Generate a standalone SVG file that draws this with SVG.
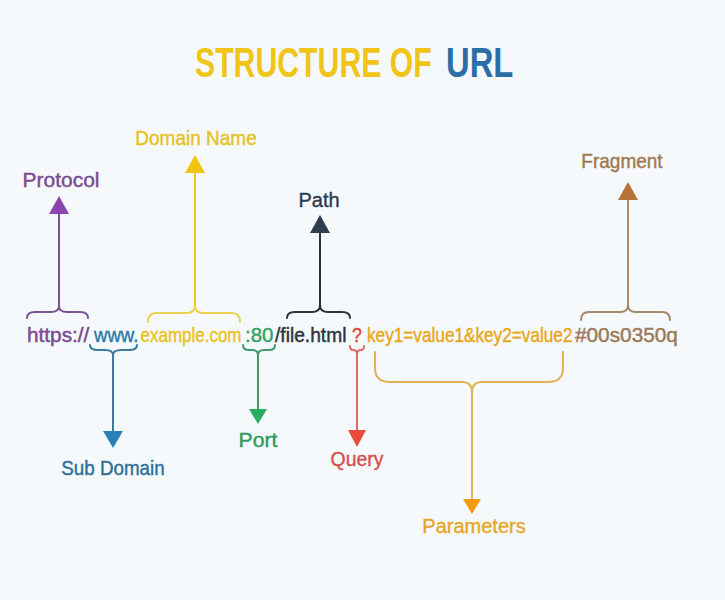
<svg xmlns="http://www.w3.org/2000/svg" width="725" height="600" viewBox="0 0 725 600">
<style>
  text { font-family: "Liberation Sans", Arial, sans-serif; }
  .title { font-size: 42px; font-weight: 700; }
  .url { font-size: 20px; fill: currentColor; stroke: currentColor; stroke-width: 0.45; }
  .lbl { font-size: 20px; text-anchor: middle; fill: currentColor; stroke: currentColor; stroke-width: 0.4; }
  .brace, .conn { fill: none; stroke-width: 2; stroke-linecap: round; stroke-linejoin: round; }
</style>
<defs>
  <marker id="mPurple" markerUnits="userSpaceOnUse" markerWidth="20" markerHeight="22" viewBox="0 -11 20 22" refX="0" refY="0" orient="auto"><path d="M0,-10 L18,0 L0,10 Z" fill="#8e44ad"/></marker>
  <marker id="mYellow" markerUnits="userSpaceOnUse" markerWidth="20" markerHeight="22" viewBox="0 -11 20 22" refX="0" refY="0" orient="auto"><path d="M0,-10 L18,0 L0,10 Z" fill="#f1c40f"/></marker>
  <marker id="mDark" markerUnits="userSpaceOnUse" markerWidth="20" markerHeight="22" viewBox="0 -11 20 22" refX="0" refY="0" orient="auto"><path d="M0,-10 L18,0 L0,10 Z" fill="#2c3e50"/></marker>
  <marker id="mBrown" markerUnits="userSpaceOnUse" markerWidth="20" markerHeight="22" viewBox="0 -11 20 22" refX="0" refY="0" orient="auto"><path d="M0,-10 L18,0 L0,10 Z" fill="#b8733a"/></marker>
  <marker id="mBlue" markerUnits="userSpaceOnUse" markerWidth="20" markerHeight="22" viewBox="0 -11 20 22" refX="0" refY="0" orient="auto"><path d="M0,-10 L17,0 L0,10 Z" fill="#2980b9"/></marker>
  <marker id="mGreen" markerUnits="userSpaceOnUse" markerWidth="20" markerHeight="22" viewBox="0 -11 20 22" refX="0" refY="0" orient="auto"><path d="M0,-9 L15,0 L0,9 Z" fill="#27ae60"/></marker>
  <marker id="mRed" markerUnits="userSpaceOnUse" markerWidth="20" markerHeight="22" viewBox="0 -11 20 22" refX="0" refY="0" orient="auto"><path d="M0,-9 L17,0 L0,9 Z" fill="#e74c3c"/></marker>
  <marker id="mOrange" markerUnits="userSpaceOnUse" markerWidth="20" markerHeight="22" viewBox="0 -11 20 22" refX="0" refY="0" orient="auto"><path d="M0,-9 L15,0 L0,9 Z" fill="#f39c12"/></marker>
</defs>
<rect width="725" height="600" fill="#f5f9fc"/>

<g id="title">
  <text class="title" transform="translate(195 77) scale(0.72 1)" fill="#f0c419">STRUCTURE OF</text>
  <text class="title" transform="translate(446 77) scale(0.78 1)" fill="#2b6ea6">URL</text>
</g>

<g id="url">
  <text class="url" transform="translate(27 342) scale(1.04 1)" color="#7b4a91">https://</text>
  <text class="url" transform="translate(94 342) scale(0.93 1)" color="#2e7aa6">www.</text>
  <text class="url" transform="translate(140.5 342) scale(0.85 1)" color="#e9c31c">example.com</text>
  <text class="url" transform="translate(245 342) scale(1.02 1)" color="#2fa36a">:80</text>
  <text class="url" transform="translate(275 342) scale(0.96 1)" color="#2c3440">/file.html</text>
  <text class="url" transform="translate(352 342) scale(0.88 1)" color="#e0473a">?</text>
  <text class="url" transform="translate(367 342) scale(0.86 1)" color="#e8a820">key1=value1&amp;key2=value2</text>
  <text class="url" transform="translate(575 342) scale(1.04 1)" color="#9c7a58">#00s0350q</text>
</g>

<g id="protocol">
  <text class="lbl" transform="translate(61 187) scale(1.05 1)" color="#7b4a91">Protocol</text>
</g>
<g id="domain-name">
  <text class="lbl" transform="translate(196 145) scale(0.95 1)" color="#e6c21e">Domain Name</text>
</g>
<g id="path">
  <text class="lbl" transform="translate(319 207)" color="#2c3e50">Path</text>
</g>
<g id="fragment">
  <text class="lbl" transform="translate(622 168) scale(0.95 1)" color="#a07850">Fragment</text>
</g>
<g id="sub-domain">
  <text class="lbl" transform="translate(113 475) scale(0.94 1)" color="#2f6f9a">Sub Domain</text>
</g>
<g id="port">
  <text class="lbl" transform="translate(258 447) scale(1.06 1)" color="#2f9a5e">Port</text>
</g>
<g id="query">
  <text class="lbl" transform="translate(357 466) scale(0.97 1)" color="#d65050">Query</text>
</g>
<g id="parameters">
  <text class="lbl" transform="translate(474 533)" color="#e5a82a">Parameters</text>
</g>

<g id="connectors">
  <path class="brace" stroke="#7d5292" d="M27 318 Q27 312 35 312 L51 312 Q59 312 59 306 Q59 312 67 312 L80 312 Q88 312 88 318"/>
  <path class="conn" stroke="#7d5292" d="M59 306 L59 214" marker-end="url(#mPurple)"/>

  <path class="brace" stroke="#ecd050" d="M148 322 Q148 313 156 313 L187 313 Q195 313 195 305 Q195 313 203 313 L232 313 Q240 313 240 322"/>
  <path class="conn" stroke="#f0c419" d="M195 305 L195 173" marker-end="url(#mYellow)"/>

  <path class="brace" stroke="#2c3440" d="M287 318 Q287 312 295 312 L312 312 Q320 312 320 305 Q320 312 328 312 L342 312 Q350 312 350 318"/>
  <path class="conn" stroke="#2c3440" d="M320 305 L320 233" marker-end="url(#mDark)"/>

  <path class="brace" stroke="#a8896a" d="M581 320 Q581 312 589 312 L620 312 Q628 312 628 305 Q628 312 636 312 L662 312 Q670 312 670 320"/>
  <path class="conn" stroke="#a8896a" d="M628 305 L628 200" marker-end="url(#mBrown)"/>

  <path class="brace" stroke="#3a7aa0" d="M90 345 Q90 350 98 350 L105 350 Q113 350 113 355 Q113 350 121 350 L129 350 Q137 350 137 345"/>
  <path class="conn" stroke="#3a7aa0" d="M113 355 L113 431" marker-end="url(#mBlue)"/>

  <path class="brace" stroke="#3d9a6b" d="M243 345 Q243 350 249 350 L252 350 Q258 350 258 355 Q258 350 264 350 L269 350 Q275 350 275 345"/>
  <path class="conn" stroke="#3d9a6b" d="M258 355 L258 409" marker-end="url(#mGreen)"/>

  <path class="brace" stroke="#e06a6a" d="M350 346 Q350 350 353 350 Q357 350 357 354 Q357 350 361 350 Q364 350 364 346"/>
  <path class="conn" stroke="#e06a6a" d="M357 354 L357 430" marker-end="url(#mRed)"/>

  <path class="brace" stroke="#e2b458" d="M375 352 L375 368 Q375 382 390 382 L462 382 Q472 382 472 392 Q472 382 482 382 L548 382 Q563 382 563 368 L563 352"/>
  <path class="conn" stroke="#e2b458" d="M472 392 L472 499" marker-end="url(#mOrange)"/>
</g>
</svg>
